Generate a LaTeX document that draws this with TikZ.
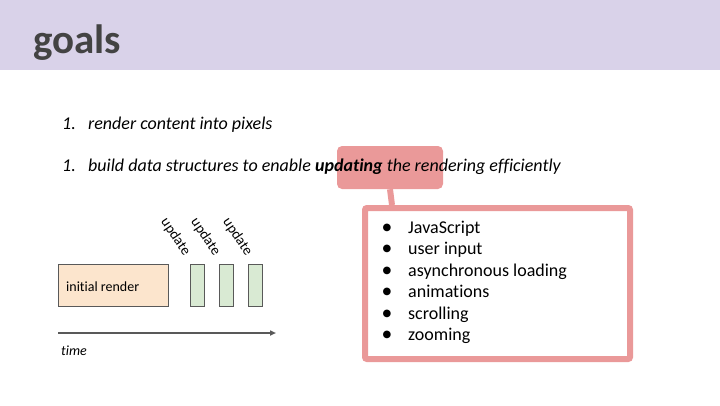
\documentclass[tikz,border=0pt]{standalone}
\usepackage{fontspec}
\setmainfont{Carlito}[Ligatures={NoCommon}]
\newfontfamily\symfont{DejaVu Sans}
\usetikzlibrary{arrows.meta}
\definecolor{headerbg}{HTML}{D9D2E9}
\definecolor{titlegray}{HTML}{434343}
\definecolor{hlpink}{HTML}{EA9999}
\definecolor{renderfill}{HTML}{FCE5CD}
\definecolor{updfill}{HTML}{D9EAD3}
\definecolor{edgegray}{HTML}{595959}
\tikzset{
  body/.style={anchor=base west, inner sep=0pt, font=\fontsize{18}{21}\selectfont\itshape},
  listitem/.style={anchor=base west, inner sep=0pt, font=\fontsize{18}{21}\selectfont},
  dot/.style={inner sep=0pt, font=\symfont\fontsize{10}{10}\selectfont},
  phase/.style={draw=edgegray, line width=1pt, inner sep=0pt},
  updlabel/.style={anchor=mid east, inner sep=0pt, rotate=-56, font=\fontsize{14.5}{16}\selectfont},
}
\begin{document}
\begin{tikzpicture}[x=1pt,y=-1pt]
\useasboundingbox (0,0) rectangle (720,405);
% title band
\fill[headerbg] (0,0) rectangle (720,70);
\node[anchor=base west, inner sep=0pt, text=titlegray, font=\fontsize{41}{45}\selectfont\bfseries] (title) at (33,53) {goals};

% highlight tab behind "updating", joined to the list box
\node[fill=hlpink, rounded corners=5pt, minimum width=106pt, minimum height=43pt, inner sep=0pt] (hl) at (390,167.5) {};
\draw[hlpink, line width=6pt] (hl.south) -- (392,205) coordinate (stemend);
\node[draw=hlpink, fill=white, line width=6pt, rounded corners=2pt, minimum width=265pt, minimum height=151pt, inner sep=0pt] (lst) at (497.5,283.5) {};

% goal items
\node[body] (n1) at (62,129) {1.};
\node[body] (g1) at (88,129) {render content into pixels};
\node[body] (n2) at (62,171) {1.};
\node[body] (g2) at (88,171) {build data structures to enable \textbf{updating} the rendering efficiently};

% sources of updates
\foreach \i/\t/\y in {1/JavaScript/233, 2/user input/254.5, 3/asynchronous loading/276, 4/animations/297.5, 5/scrolling/319, 6/zooming/340.5} {
  \node[dot] (b\i) at (387,\y-5.5) {●};
  \node[listitem] (s\i) at (408,\y) {\t};
}

% timeline
\node[phase, fill=renderfill, minimum width=110pt, minimum height=42pt] (init) at (113,285) {};
\node[anchor=base west, inner sep=0pt, font=\fontsize{14}{16}\selectfont] (initl) at (66,291) {initial render};
\node[phase, fill=updfill, minimum width=14pt, minimum height=42pt] (u1) at (197,285) {};
\node[phase, fill=updfill, minimum width=14pt, minimum height=42pt] (u2) at (226,285) {};
\node[phase, fill=updfill, minimum width=14pt, minimum height=42pt] (u3) at (255,285) {};
\node[updlabel] (l1) at (186,255) {update};
\node[updlabel] (l2) at (216,255) {update};
\node[updlabel] (l3) at (248,255) {update};

\coordinate (t0) at (58,333);
\coordinate (t1) at (276,333);
\draw[edgegray, line width=1.5pt, -{Triangle[length=6pt,width=5pt]}] (t0) -- (t1);
\node[anchor=base west, inner sep=0pt, font=\fontsize{14}{16}\selectfont\itshape] (time) at (61,355) {time};
\end{tikzpicture}
\end{document}
